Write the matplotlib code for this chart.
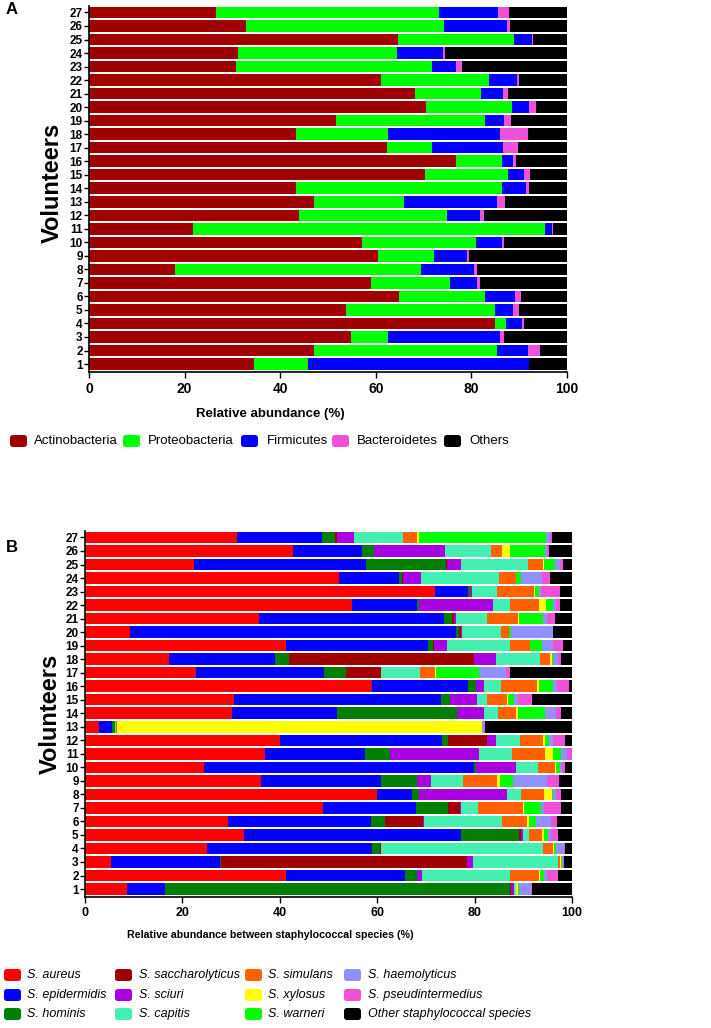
import numpy as np
import matplotlib
matplotlib.use("Agg")
import matplotlib.pyplot as plt
from matplotlib.patches import FancyBboxPatch

plt.rcParams['font.family'] = ['Liberation Sans', 'DejaVu Sans']

## Data
#
volunteers = list(range(1, 28))

# Panel A - phyla (% relative abundance), volunteers 1..27
actinobacteria = [34.5, 47.1, 54.9, 84.9, 53.8, 64.9, 59.1, 17.9, 60.5, 57.2, 21.7, 44.0, 47.1, 43.3,
                  70.3, 76.8, 62.3, 43.3, 51.7, 70.5, 68.1, 61.0, 30.7, 31.1, 64.7, 32.9, 26.5]
proteobacteria = [11.3, 38.2, 7.6, 2.3, 31.1, 17.9, 16.5, 51.6, 11.6, 23.7, 73.8, 30.9, 18.8, 43.2,
                  17.3, 9.7, 9.4, 19.3, 31.1, 18.0, 13.9, 22.7, 41.0, 33.3, 24.3, 41.3, 46.8]
firmicutes = [46.2, 6.5, 23.5, 3.4, 3.8, 6.3, 5.5, 11.0, 6.9, 5.5, 1.3, 6.8, 19.4, 4.9,
              3.5, 2.3, 15.0, 23.3, 4.1, 3.6, 4.7, 5.8, 5.0, 9.6, 3.6, 13.3, 12.2]
bacteroidetes = [0.1, 2.5, 0.9, 0.3, 1.2, 1.2, 0.8, 0.6, 0.5, 0.5, 0.2, 1.0, 1.8, 0.6,
                 1.1, 0.6, 3.0, 5.9, 1.4, 1.4, 0.9, 0.4, 1.4, 0.5, 0.3, 0.6, 2.4]
others_phyla = [7.9, 5.7, 13.1, 9.1, 10.1, 9.7, 18.1, 18.9, 20.5, 13.1, 3.0, 17.3, 12.9, 8.0,
                7.8, 10.6, 10.3, 8.2, 11.7, 6.5, 12.4, 10.1, 21.9, 25.5, 7.1, 11.9, 12.1]

phyla_names = ["Actinobacteria", "Proteobacteria", "Firmicutes", "Bacteroidetes", "Others"]
phyla_colors = ["#a00000", "#00ff00", "#0000ff", "#f050d8", "#000000"]

# Panel B - staphylococcal species (%), volunteers 1..27
s_aureus = [8.6, 41.3, 5.4, 25.0, 32.7, 29.3, 48.8, 59.9, 36.2, 24.4, 37.0, 40.0, 2.9, 30.1,
            30.5, 59.0, 22.8, 17.3, 41.2, 9.3, 35.7, 54.9, 71.8, 52.1, 22.4, 42.7, 31.3]
s_epidermidis = [7.9, 24.4, 22.4, 34.0, 44.6, 29.4, 19.1, 7.3, 24.5, 55.5, 20.5, 33.3, 2.7, 21.7,
                 42.6, 19.7, 26.3, 21.8, 29.3, 66.8, 38.1, 13.3, 6.9, 12.3, 35.4, 14.2, 17.3]
s_hominis = [70.8, 2.4, 0.1, 1.5, 11.8, 3.0, 6.6, 1.3, 7.4, 0.3, 5.1, 1.3, 0.6, 24.5,
             1.9, 1.5, 4.4, 2.7, 1.0, 0.7, 1.6, 0.3, 0.4, 0.7, 16.4, 2.4, 2.8]
s_saccharolyticus = [0.2, 0.0, 50.5, 0.2, 0.4, 7.7, 2.4, 0.0, 0.0, 0.0, 0.0, 8.0, 0.0, 0.0,
                     0.0, 0.0, 7.2, 38.1, 0.2, 0.4, 0.4, 0.0, 0.0, 0.2, 0.2, 0.0, 0.3]
s_sciuri = [0.5, 1.1, 1.3, 0.0, 0.4, 0.2, 0.4, 18.2, 2.9, 8.2, 18.3, 1.8, 0.0, 5.6,
            5.4, 1.7, 0.0, 4.4, 2.7, 0.2, 0.3, 15.3, 0.4, 3.6, 2.9, 14.7, 3.6]
s_capitis = [0.4, 18.1, 17.4, 33.3, 1.2, 16.1, 3.5, 2.9, 6.6, 4.6, 6.8, 5.0, 0.1, 3.0,
             2.2, 3.6, 8.0, 9.1, 12.9, 8.0, 6.5, 3.5, 5.0, 16.1, 13.7, 9.4, 10.0]
s_simulans = [0.2, 5.9, 0.4, 2.0, 2.8, 5.1, 9.1, 4.7, 7.1, 3.5, 6.8, 4.7, 0.2, 3.7,
              4.0, 7.3, 3.1, 2.1, 4.0, 1.7, 6.3, 5.9, 7.7, 3.4, 3.0, 2.2, 2.8]
s_xylosus = [0.3, 0.3, 0.3, 0.4, 0.3, 0.3, 0.3, 1.5, 0.5, 0.3, 1.7, 0.4, 75.0, 0.4,
             0.3, 0.4, 0.2, 0.3, 0.0, 0.0, 0.2, 1.5, 0.3, 0.2, 0.2, 1.7, 0.5]
s_warneri = [0.2, 0.8, 0.2, 0.4, 0.8, 1.6, 3.4, 0.4, 2.7, 0.8, 1.6, 0.8, 0.0, 5.5,
             1.2, 2.8, 8.9, 0.3, 2.6, 0.3, 4.9, 1.5, 0.7, 1.0, 2.4, 7.1, 26.1]
s_haemolyticus = [2.4, 0.6, 0.2, 1.6, 0.6, 2.9, 0.7, 0.6, 7.0, 0.3, 1.1, 0.7, 0.5, 2.2,
                  0.8, 0.9, 5.6, 1.0, 2.2, 8.7, 0.9, 0.6, 0.5, 4.2, 0.9, 0.5, 0.7]
s_pseudintermedius = [0.2, 2.3, 0.1, 0.2, 1.5, 1.3, 3.5, 0.9, 2.4, 0.7, 1.1, 2.6, 0.1, 1.0,
                      2.9, 2.5, 0.8, 0.6, 2.1, 0.1, 1.7, 0.7, 3.9, 1.6, 0.6, 0.3, 0.4]
other_staph = [8.3, 2.8, 1.7, 1.4, 2.9, 3.1, 2.2, 2.3, 2.7, 1.4, 0.0, 1.4, 17.9, 2.3,
               8.2, 0.6, 12.7, 2.3, 1.8, 3.8, 3.4, 2.5, 2.4, 4.6, 1.9, 4.8, 4.2]

species_names = ["S. aureus", "S. epidermidis", "S. hominis", "S. saccharolyticus", "S. sciuri",
                 "S. capitis", "S. simulans", "S. xylosus", "S. warneri", "S. haemolyticus",
                 "S. pseudintermedius", "Other staphylococcal species"]
species_colors = ["#ff0000", "#0000ff", "#007f00", "#a00000", "#a800e0", "#44f0b0",
                  "#ff6000", "#ffff00", "#00ff00", "#9090ff", "#f050d8", "#000000"]

W, H = 711, 1028

def fx(x):
    return x / W

def fy(y):
    return 1 - y / H


def stacked(ax, series, colors):
    left = np.zeros(len(volunteers))
    for vals, col in zip(series, colors):
        ax.barh(
            volunteers,
            vals,
            left = left,
            height = 0.85,
            color = col,
            edgecolor = 'none',
        )
        left = left + np.array(vals)
    ax.set_xlim(0, 100)
    ax.set_ylim(0.41, 27.5)
    ax.set_yticks(volunteers)
    ax.set_yticklabels([str(v) for v in volunteers], fontweight = 'bold', fontsize = 8.5)
    ax.set_xticks([0, 20, 40, 60, 80, 100])
    for s in ['top', 'right']:
        ax.spines[s].set_visible(False)
    for s in ['left', 'bottom']:
        ax.spines[s].set_linewidth(1.2)
    ax.tick_params(axis = 'y', length = 3.5, width = 1.0, pad = 1)
    ax.tick_params(axis = 'x', length = 4, width = 1.0, pad = 3)


def legend_box(fig, x, y, color, w = 17, h = 12):
    p = FancyBboxPatch(
        (fx(x), fy(y + h / 2)),
        w / W,
        h / H,
        boxstyle = "round,pad=0,rounding_size=0.004",
        mutation_aspect = W / H,
        transform = fig.transFigure,
        facecolor = color,
        edgecolor = 'none',
    )
    fig.patches.append(p)


fig = plt.figure(figsize = (7.11, 10.28), dpi = 100)

## Panel A
axA = fig.add_axes([fx(89), fy(372), 478 / W, 366.3 / H])
stacked(axA, [actinobacteria, proteobacteria, firmicutes, bacteroidetes, others_phyla], phyla_colors)
for lab in axA.get_xticklabels():
    lab.set_fontweight('bold')
    lab.set_fontsize(10)
fig.text(fx(270), fy(414), "Relative abundance (%)", ha = 'center', va = 'center',
         fontsize = 9.5, fontweight = 'bold')
fig.text(fx(52), fy(183), "Volunteers", rotation = 90, ha = 'center', va = 'center',
         fontsize = 17, fontweight = 'bold')
fig.text(fx(12), fy(10), "A", ha = 'center', va = 'center', fontsize = 12, fontweight = 'bold')

leg_patch_x = [10, 123, 241, 332, 444]
leg_text_x = [34, 148, 267, 357, 469]
for name, col, px, tx in zip(phyla_names, phyla_colors, leg_patch_x, leg_text_x):
    legend_box(fig, px, 441, col)
    fig.text(fx(tx), fy(441), name, ha = 'left', va = 'center', fontsize = 9.5)

## Panel B
axB = fig.add_axes([fx(85), fy(897), 487 / W, 366.3 / H])
stacked(axB, [s_aureus, s_epidermidis, s_hominis, s_saccharolyticus, s_sciuri, s_capitis,
              s_simulans, s_xylosus, s_warneri, s_haemolyticus, s_pseudintermedius, other_staph],
        species_colors)
for lab in axB.get_xticklabels():
    lab.set_fontweight('bold')
    lab.set_fontsize(9)
fig.text(fx(270), fy(935), "Relative abundance between staphylococcal species (%)",
         ha = 'center', va = 'center', fontsize = 7.7, fontweight = 'bold')
fig.text(fx(50), fy(714), "Volunteers", rotation = 90, ha = 'center', va = 'center',
         fontsize = 17, fontweight = 'bold')
fig.text(fx(12), fy(548), "B", ha = 'center', va = 'center', fontsize = 12, fontweight = 'bold')

col_patch_x = [4, 115, 245, 344]
col_text_x = [27, 139, 268, 368]
row_y = [975, 995, 1014]
for i, (name, col) in enumerate(zip(species_names, species_colors)):
    c, r = divmod(i, 3)
    legend_box(fig, col_patch_x[c], row_y[r], col)
    fig.text(fx(col_text_x[c]), fy(row_y[r]), name, ha = 'left', va = 'center',
             fontsize = 9, style = 'italic')

fig.savefig("out.png", dpi = 100)
plt.close()
